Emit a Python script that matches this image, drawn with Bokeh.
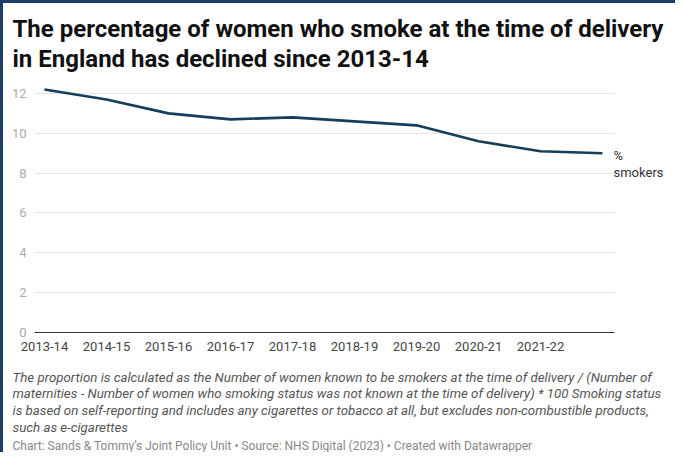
from bokeh.plotting import figure
from bokeh.models import Title, Label, FixedTicker, Range1d
from bokeh.embed import file_html
from bokeh.resources import INLINE

years = ["2013-14", "2014-15", "2015-16", "2016-17", "2017-18",
         "2018-19", "2019-20", "2020-21", "2021-22", "2022-23"]
smokers = [12.2, 11.7, 11.0, 10.7, 10.8, 10.6, 10.4, 9.6, 9.1, 9.0]
labelled_years = years[:-1]
y_ticks = [0, 2, 4, 6, 8, 10, 12]

title_text = ("The percentage of women who smoke at the time of delivery\n"
              "in England has declined since 2013-14")
notes_text = ("The proportion is calculated as the Number of women known to be smokers at the time of delivery / (Number of\n"
              "maternities - Number of women who smoking status was not known at the time of delivery) * 100 Smoking status\n"
              "is based on self-reporting and includes any cigarettes or tobacco at all, but excludes non-combustible products,\n"
              "such as e-cigarettes")
footer_text = "Chart: Sands & Tommy\u2019s Joint Policy Unit \u2022 Source: NHS Digital (2023) \u2022 Created with Datawrapper"
series_label = "%\nsmokers"

xs = list(range(len(years)))
n = len(years)
plot_bounds = (-0.161, n - 1 + 0.194)

p = figure(width=675, height=452, output_backend="svg", toolbar_location=None,
           x_range=Range1d(-0.161, n - 1 + 1.145), y_range=Range1d(0, 12.5),
           min_border_left=31, min_border_right=5, min_border_top=79, min_border_bottom=123,
           styles={"border-top": "3px solid #1c3d6b", "border-left": "3px solid #1c3d6b"})
p.outline_line_color = None
p.background_fill_color = "white"

p.line(xs, smokers, line_color="#163d59", line_width=2.6)

# axes
p.xaxis.ticker = FixedTicker(ticks=xs[:len(labelled_years)])
p.xaxis.major_label_overrides = {i: lab for i, lab in enumerate(labelled_years)}
p.xaxis.bounds = plot_bounds
p.xaxis.major_tick_line_color = None
p.xaxis.minor_tick_line_color = None
p.xaxis.axis_line_color = "#333333"
p.xaxis.axis_line_width = 1.2
p.xaxis.major_label_text_font = "Roboto"
p.xaxis.major_label_text_font_size = "13px"
p.xaxis.major_label_text_color = "#444444"
p.xaxis.major_label_standoff = 3

p.yaxis.ticker = FixedTicker(ticks=y_ticks)
p.yaxis.major_tick_line_color = None
p.yaxis.minor_tick_line_color = None
p.yaxis.axis_line_color = None
p.yaxis.major_label_text_font = "Roboto"
p.yaxis.major_label_text_font_size = "13px"
p.yaxis.major_label_text_color = "#aaaaaa"
p.yaxis.major_label_standoff = 2

p.xgrid.grid_line_color = None
p.ygrid.grid_line_color = "#e6e6e6"
p.ygrid.grid_line_width = 1
p.ygrid.cross_bounds = plot_bounds

# series label
p.add_layout(Label(x=xs[-1], y=smokers[-1], text=series_label, x_offset=11, y_offset=5,
                   text_baseline="top", text_font="Roboto", text_font_size="13px",
                   text_color="#333333", text_line_height=1.1))

# title
p.add_layout(Title(text=title_text, align="left", offset=-22, text_font="Roboto",
                   text_font_style="bold", text_font_size="24px", text_color="#111111",
                   text_line_height=1.08, standoff=20), "above")

# notes & footer
p.add_layout(Title(text=notes_text, align="left", offset=-22, vertical_align="top",
                   text_font="Roboto", text_font_style="italic", text_font_size="13.3px",
                   text_color="#555555", text_line_height=1.12, standoff=32), "below")
p.add_layout(Title(text=footer_text, align="left", offset=-22, vertical_align="top",
                   text_font="Roboto", text_font_style="normal", text_font_size="12px",
                   text_color="#888888", standoff=-28), "below")

open("out.html", "w").write(file_html(p, INLINE))
